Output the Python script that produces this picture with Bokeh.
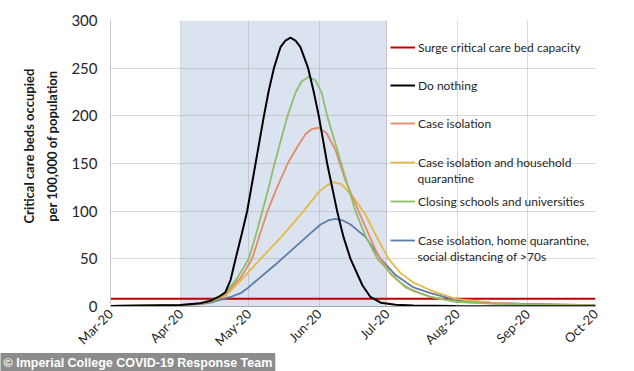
from math import pi
from bokeh.plotting import figure
from bokeh.models import (Range1d, FixedTicker, BoxAnnotation, Legend, LegendItem, Label, Title)
from bokeh.embed import file_html
from bokeh.resources import INLINE

# x = days since 1 March 2020
tick_days = [0, 31, 61, 92, 122, 153, 184, 214]
tick_labels = ["Mar-20", "Apr-20", "May-20", "Jun-20", "Jul-20", "Aug-20", "Sep-20", "Oct-20"]
y_ticks = [0, 50, 100, 150, 200, 250, 300]

lockdown_start = 31   # Apr-20
lockdown_end = 122    # Jul-20

surge_days = [0, 214]
surge_vals = [8, 8]

nothing_days = [0, 30.9, 39.7, 44.1, 47.7, 50.7, 53.0, 55.2, 57.8, 60.3, 64.0, 67.7, 69.8,
                72.1, 75.0, 77.2, 79.4, 81.6, 83.8, 87.2, 89.6, 91.9, 95.6, 100.0, 102.8,
                105.9, 111.2, 114.7, 119.2, 125.8, 133.7, 152.3, 214]
nothing_vals = [0.5, 1.5, 3.5, 6, 10, 15, 28, 50, 75, 100, 150, 200, 226,
                250, 272, 279, 282, 279, 272, 250, 226, 200, 150, 100, 73,
                50, 22, 10, 4, 1.8, 1, 0.4, 0.2]

iso_days = [0, 30.9, 39.7, 44.1, 50.7, 57.4, 62.5, 65.8, 69.3, 73.5, 78.2, 82.8, 86.1,
            88.7, 91.9, 95.3, 99.3, 103.7, 108.2, 112.6, 117.8, 123.6, 130.2, 141.2,
            152.3, 180.9, 214]
iso_vals = [0.5, 1.5, 3, 5.5, 13, 30, 50, 75, 100, 125, 150, 169, 181,
            186, 187.5, 182, 164, 132, 107, 83, 55, 34, 20, 10,
            5, 2, 1]

quar_days = [0, 30.9, 39.7, 44.1, 50.7, 57.4, 66.2, 75.0, 85.2, 91.8, 95.4, 98.5, 102.0,
             107.3, 112.6, 117.0, 122.7, 128.0, 133.7, 141.2, 152.3, 167.7, 180.9, 214]
quar_vals = [0.5, 1.5, 3, 5, 11, 27, 50, 72, 100, 120, 127, 130.5, 128,
             114, 96, 75, 50, 35, 25, 17, 8, 4, 2.5, 1]

school_days = [0, 30.9, 39.7, 44.1, 50.7, 56.0, 61.0, 64.0, 67.0, 69.8, 72.4, 78.1, 81.6,
               84.3, 87.5, 90.5, 93.2, 95.6, 101.8, 104.9, 108.1, 112.5, 117.8, 123.6,
               128.0, 133.7, 141.2, 152.3, 167.7, 180.9, 214]
school_vals = [0.5, 1.5, 3.5, 6, 14, 30, 50, 74, 100, 125, 150, 200, 224,
               236, 241, 237, 224, 200, 150, 125, 100, 74, 50, 35,
               25, 16, 10, 5, 3, 2, 1]

dist_days = [0, 30.9, 39.7, 44.1, 53.0, 57.4, 60.9, 65.3, 72.8, 80.3, 88.3, 92.7, 96.3, 99.3,
             102.8, 105.9, 112.5, 119.2, 125.8, 133.7, 141.2, 152.3, 167.7, 180.9, 214]
dist_vals = [0.5, 1.2, 2.5, 4, 10, 14, 20, 29, 44, 60, 77, 86, 90.5, 92,
             90, 86, 73, 50, 33, 20, 14, 7, 4, 3, 1.5]

FONT = "Lato"
NB = "\u00a0" * 11

p = figure(width=634, height=371, output_backend="svg", toolbar_location=None,
           x_range=Range1d(0, 214), y_range=Range1d(0, 300),
           min_border_left=110, min_border_right=39, min_border_top=20, min_border_bottom=65)
p.outline_line_color = None
p.background_fill_color = "white"
p.border_fill_color = "white"

p.add_layout(BoxAnnotation(left=lockdown_start, right=lockdown_end, fill_color="#dbe3f1",
                           fill_alpha=1, line_color=None, level="image"))

p.xgrid.grid_line_color = "#a0a0a0"
p.xgrid.grid_line_alpha = 0.4
p.ygrid.grid_line_color = "#a0a0a0"
p.ygrid.grid_line_alpha = 0.4

p.xaxis.ticker = FixedTicker(ticks=tick_days)
p.xaxis.major_label_overrides = {d: l for d, l in zip(tick_days, tick_labels)}
p.xaxis.major_label_orientation = pi / 4
p.yaxis.ticker = FixedTicker(ticks=y_ticks)
for ax in (p.xaxis[0], p.yaxis[0]):
    ax.major_tick_line_color = None
    ax.minor_tick_line_color = None
    ax.major_tick_out = 0
    ax.major_tick_in = 0
    ax.minor_tick_out = 0
    ax.minor_tick_in = 0
    ax.major_label_text_font = FONT
    ax.major_label_text_color = "#262626"
p.xaxis.major_label_text_font_size = "13px"
p.yaxis.major_label_text_font_size = "15px"
p.xaxis.axis_line_color = "#a6a6a6"
p.yaxis.axis_line_color = "#c8c8c8"
p.xaxis.major_label_standoff = 5
p.xaxis.axis_label_standoff = 0
p.yaxis.major_label_standoff = 13

p.yaxis.axis_label = NB + "Critical care beds occupied\n" + NB + "per 100,000 of population"
p.yaxis.axis_label_text_font = FONT
p.yaxis.axis_label_text_font_size = "13px"
p.yaxis.axis_label_text_font_style = "bold"
p.yaxis.axis_label_text_color = "#1a1a1a"
p.yaxis.axis_label_text_line_height = 1.45
p.yaxis.axis_label_standoff = 8

r_surge = p.line(surge_days, surge_vals, line_color="#c00000", line_width=2)
r_dist = p.line(dist_days, dist_vals, line_color="#5a7ea6", line_width=1.8)
r_quar = p.line(quar_days, quar_vals, line_color="#e4ba45", line_width=1.8)
r_iso = p.line(iso_days, iso_vals, line_color="#e38a66", line_width=1.8)
r_school = p.line(school_days, school_vals, line_color="#90bd6a", line_width=1.8)
r_nothing = p.line(nothing_days, nothing_vals, line_color="#000000", line_width=2)

entries = [
    (r_surge, "Surge critical care bed capacity", 47),
    (r_nothing, "Do nothing", 85),
    (r_iso, "Case isolation", 123),
    (r_quar, "Case isolation and household", 162),
    (r_school, "Closing schools and universities", 201),
    (r_dist, "Case isolation, home quarantine,", 240),
]
for r, lab, yc in entries:
    leg = Legend(items=[LegendItem(label=lab, renderers=[r])], location=(280, 306 - yc - 8),
                 padding=0, margin=0, spacing=0, border_line_color=None,
                 background_fill_alpha=0, glyph_width=25, glyph_height=16, label_height=16,
                 label_standoff=3, label_text_font=FONT, label_text_font_size="12px",
                 label_text_color="#262626")
    p.add_layout(leg)

for txt, yc in (("quarantine", 178), ("social distancing of >70s", 256)):
    p.add_layout(Label(x=307, y=306 - yc, x_units="screen", y_units="screen", text=txt,
                       text_font=FONT, text_font_size="12px", text_color="#262626",
                       text_baseline="middle", text_align="left"))

credit = Title(text="\u00a9 Imperial College COVID-19 Response Team", align="left",
               text_font="Liberation Sans", text_font_size="12.5px", text_font_style="bold",
               text_color="white", background_fill_color="#8c8c8c", standoff=-13, offset=-110,
               padding=3)
p.add_layout(credit, "below")

open("out.html", "w").write(file_html(p, INLINE))
